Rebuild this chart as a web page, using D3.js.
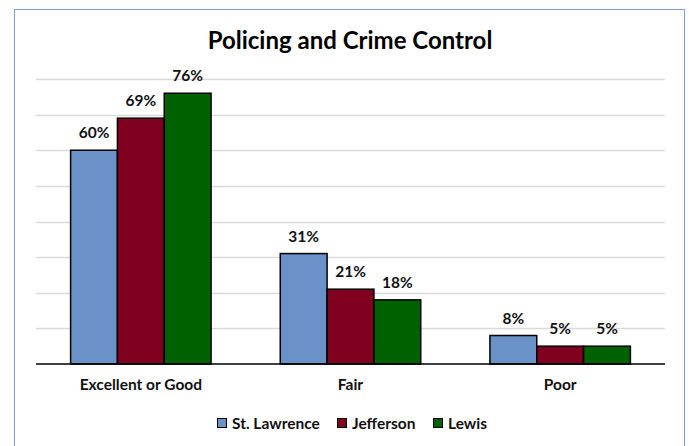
<!DOCTYPE html>
<html><head><meta charset="utf-8">
<script src="https://cdn.jsdelivr.net/npm/d3@7"></script>
<style>body{margin:0;background:#fff;}svg{display:block;font-family:Lato,"Open Sans",sans-serif;}</style>
</head><body>
<svg id="c" width="689" height="446"></svg>
<script>
const categories = ["Excellent or Good", "Fair", "Poor"];
const seriesNames = ["St. Lawrence", "Jefferson", "Lewis"];
const stLawrence = [60, 31, 8];
const jefferson = [69, 21, 5];
const lewis = [76, 18, 5];
const colors = ["#6a91c8", "#800020", "#006100"];
const gridTicks = [10, 20, 30, 40, 50, 60, 70, 80];
const title = "Policing and Crime Control";

(function(){
const values = [stLawrence, jefferson, lewis];
const svg = d3.select("#c");
svg.append("rect").attr("x",14.5).attr("y",9.5).attr("width",670).attr("height",450)
  .attr("fill","none").attr("stroke","#7f9fd2").attr("stroke-width",1);

const pLeft = 36, pRight = 665, pTop = 79, pBottom = 364;
const y = d3.scaleLinear().domain([0,80]).range([pBottom, pTop]);
const x0 = d3.scaleBand().domain(categories).range([pLeft,pRight]).paddingInner(0.33).paddingOuter(0.165);
const x1 = d3.scaleBand().domain(seriesNames).range([0, x0.bandwidth()]);

svg.append("g").selectAll("line").data(gridTicks).join("line")
  .attr("x1",pLeft).attr("x2",pRight).attr("y1",d=>Math.round(y(d))+0.5).attr("y2",d=>Math.round(y(d))+0.5)
  .attr("stroke","#d9d9d9").attr("stroke-width",1.3);

const g = svg.append("g");
seriesNames.forEach((s,si)=>{
  g.append("g").selectAll("rect").data(categories).join("rect")
    .attr("x",c=>x0(c)+x1(s)).attr("y",(c,i)=>y(values[si][i]))
    .attr("width",x1.bandwidth()).attr("height",(c,i)=>pBottom-y(values[si][i]))
    .attr("fill",colors[si]).attr("stroke","#000").attr("stroke-width",1.5);
  g.append("g").selectAll("text").data(categories).join("text")
    .attr("x",c=>x0(c)+x1(s)+x1.bandwidth()/2).attr("y",(c,i)=>y(values[si][i])-12)
    .attr("text-anchor","middle").attr("font-size",15.5).attr("font-weight","bold").attr("fill","#111")
    .text((c,i)=>values[si][i]+"%");
});

svg.append("line").attr("x1",pLeft).attr("x2",pRight).attr("y1",pBottom).attr("y2",pBottom)
  .attr("stroke","#000").attr("stroke-width",1.5);

const xa = svg.append("g").attr("transform",`translate(0,${pBottom})`)
  .call(d3.axisBottom(x0).tickSize(0).tickPadding(15));
xa.select(".domain").remove();
xa.selectAll("text").attr("font-size",15.5).attr("font-weight","bold").attr("fill","#111").attr("font-family","Lato,sans-serif");

svg.append("text").attr("x",350).attr("y",49).attr("text-anchor","middle")
  .attr("font-size",24).attr("font-weight","bold").attr("fill","#000").text(title);

const legendX = [217, 337, 433];
const lg = svg.append("g");
seriesNames.forEach((s,i)=>{
  lg.append("rect").attr("x",legendX[i]+0.5).attr("y",418.5).attr("width",9).attr("height",9)
    .attr("fill",colors[i]).attr("stroke","#000").attr("stroke-width",1);
  lg.append("text").attr("x",legendX[i]+15).attr("y",429).attr("font-size",15.5).attr("font-weight","bold")
    .attr("fill","#111").text(s);
});
})();
</script>
</body></html>
